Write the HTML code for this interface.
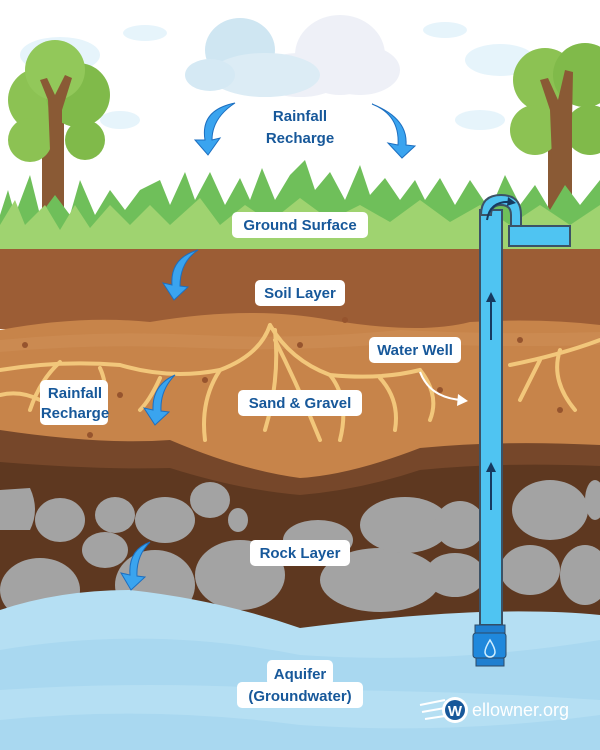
<!DOCTYPE html>
<html><head><style>
body{margin:0;width:600px;height:750px;overflow:hidden;background:#fff}
svg{display:block}
text{font-family:"Liberation Sans",sans-serif;font-weight:bold;fill:#17589a;font-size:15px;text-anchor:middle}
</style></head><body>
<svg width="600" height="750" viewBox="0 0 600 750">
<rect width="600" height="750" fill="#fff"/>
<g fill="#e6f4fb">
<ellipse cx="60" cy="55" rx="40" ry="18"/><ellipse cx="145" cy="33" rx="22" ry="8"/><ellipse cx="445" cy="30" rx="22" ry="8"/><ellipse cx="500" cy="60" rx="35" ry="16"/><ellipse cx="480" cy="120" rx="25" ry="10"/><ellipse cx="120" cy="120" rx="20" ry="9"/>
</g>
<g>
<ellipse cx="340" cy="55" rx="45" ry="40" fill="#eef0f7"/>
<ellipse cx="360" cy="70" rx="40" ry="25" fill="#eef0f7"/>
<ellipse cx="300" cy="75" rx="45" ry="22" fill="#eef0f7"/>
<ellipse cx="240" cy="50" rx="35" ry="32" fill="#cfe6f2"/>
<ellipse cx="265" cy="75" rx="55" ry="22" fill="#dcecf5"/>
<ellipse cx="210" cy="75" rx="25" ry="16" fill="#d5e9f4"/>
</g>
<g>
<rect x="42" y="110" width="22" height="135" fill="#8a5a35"/>
<circle cx="40" cy="100" r="32" fill="#8cc253"/><circle cx="78" cy="95" r="32" fill="#80ba4a"/><circle cx="55" cy="70" r="30" fill="#92c85a"/><circle cx="85" cy="140" r="20" fill="#80ba4a"/><circle cx="30" cy="140" r="22" fill="#8cc253"/>
<path d="M48 100 L40 80 L47 78 L55 95 L65 75 L72 78 L62 110 L62 150 L50 150Z" fill="#8a5a35"/>
<rect x="548" y="100" width="24" height="150" fill="#8a5a35"/>
<circle cx="545" cy="80" r="32" fill="#8cc253"/><circle cx="585" cy="75" r="32" fill="#80ba4a"/><circle cx="535" cy="130" r="25" fill="#8cc253"/><circle cx="590" cy="130" r="25" fill="#80ba4a"/>
<path d="M550 110 L540 80 L548 78 L558 100 L565 70 L573 72 L572 120 L572 160 L552 160Z" fill="#8a5a35"/>
</g>
<path d="M0 250 L0 215 L8 190 L15 215 L30 175 L40 215 L55 195 L70 215 L80 180 L95 215 L110 190 L125 210 L140 190 L160 180 L170 205 L185 172 L195 200 L210 172 L225 205 L240 178 L250 200 L262 168 L275 200 L290 175 L305 160 L315 190 L330 172 L345 200 L360 165 L370 195 L385 178 L400 200 L415 180 L425 200 L440 178 L455 205 L470 180 L490 210 L505 175 L520 205 L535 185 L550 210 L565 185 L580 205 L600 180 L600 250Z" fill="#6fbf5a"/>
<path d="M0 250 L0 225 L15 200 L25 225 L45 205 L60 230 L75 205 L90 228 L110 205 L130 225 L150 205 L170 225 L200 198 L220 225 L245 205 L270 222 L300 198 L330 220 L360 205 L390 222 L420 200 L450 222 L480 205 L510 225 L540 205 L570 225 L600 205 L600 250Z" fill="#9fd370"/>
<rect x="0" y="249" width="600" height="80" fill="#9c5d35"/>
<path d="M0 330 Q80 315 150 322 Q250 305 330 320 Q420 335 470 322 Q540 318 600 325 L600 520 L0 520Z" fill="#c7844a"/>
<path d="M0 340 Q100 330 200 335 Q300 340 400 330 Q500 335 600 332 L600 345 Q500 348 400 343 Q300 352 200 348 Q100 343 0 352Z" fill="#d09058" opacity=".5"/>
<g fill="#96542e"><circle cx="25" cy="345" r="3"/><circle cx="120" cy="395" r="3"/><circle cx="205" cy="380" r="3"/><circle cx="345" cy="320" r="3"/><circle cx="520" cy="340" r="3"/><circle cx="560" cy="410" r="3"/><circle cx="90" cy="435" r="3"/><circle cx="440" cy="390" r="3"/><circle cx="300" cy="345" r="3"/></g>
<g stroke="#f2c77b" stroke-width="4" fill="none" stroke-linecap="round">
<path d="M270 325 Q260 355 220 370 Q170 380 120 365 Q60 360 0 370"/>
<path d="M270 325 Q290 360 330 375 Q380 380 420 370"/>
<path d="M275 330 Q280 380 265 430"/><path d="M275 340 Q300 390 320 440"/>
<path d="M220 370 Q200 400 205 440"/><path d="M160 378 Q150 400 140 410"/>
<path d="M60 362 Q40 380 30 410"/><path d="M100 368 Q110 390 100 410"/>
<path d="M330 375 Q350 400 340 440"/><path d="M380 378 Q400 400 395 430"/>
<path d="M420 370 Q440 395 430 420"/><path d="M600 340 Q560 355 510 365"/><path d="M560 350 Q550 380 575 410"/><path d="M540 360 Q530 380 520 400"/>
<path d="M0 395 Q20 390 40 400"/>
</g>
<path d="M0 430 Q100 445 170 440 Q240 470 300 478 Q350 475 420 448 Q500 440 600 445 L600 620 L0 620Z" fill="#76472a"/>
<path d="M0 462 Q100 470 170 468 Q240 490 300 495 Q360 490 420 470 Q500 462 600 466 L600 630 L0 630Z" fill="#5e3820"/>
<g fill="#a3a3a3">
<path d="M0 490 L30 488 Q40 510 30 530 L0 530Z"/>
<ellipse cx="60" cy="520" rx="25" ry="22"/>
<ellipse cx="115" cy="515" rx="20" ry="18"/>
<ellipse cx="165" cy="520" rx="30" ry="23"/>
<ellipse cx="210" cy="500" rx="20" ry="18"/>
<ellipse cx="238" cy="520" rx="10" ry="12"/>
<ellipse cx="105" cy="550" rx="23" ry="18"/>
<ellipse cx="40" cy="590" rx="40" ry="32"/>
<ellipse cx="155" cy="585" rx="40" ry="35"/>
<ellipse cx="240" cy="575" rx="45" ry="35"/>
<ellipse cx="318" cy="540" rx="35" ry="20"/>
<ellipse cx="380" cy="580" rx="60" ry="32"/>
<ellipse cx="405" cy="525" rx="45" ry="28"/>
<ellipse cx="460" cy="525" rx="25" ry="24"/>
<ellipse cx="455" cy="575" rx="30" ry="22"/>
<ellipse cx="550" cy="510" rx="38" ry="30"/>
<ellipse cx="530" cy="570" rx="30" ry="25"/>
<ellipse cx="585" cy="575" rx="25" ry="30"/>
<ellipse cx="595" cy="500" rx="10" ry="20"/>
</g>
<path d="M0 610 Q60 590 130 590 Q220 600 300 628 Q400 615 480 612 Q550 610 600 615 L600 750 L0 750Z" fill="#b5dff3"/>
<path d="M0 650 Q150 625 300 655 Q450 665 600 640 L600 700 Q450 690 300 690 Q150 680 0 690Z" fill="#a9d8f0"/>
<path d="M0 720 Q150 705 300 725 Q450 735 600 715 L600 750 L0 750Z" fill="#a9d8f0"/>
<rect x="480" y="210" width="22" height="415" fill="#4fc4f2" stroke="#3c5266" stroke-width="2"/>
<path d="M481 215 Q481 195 501 195 Q521 195 521 215 L521 232 L511 232 L511 215 Q511 205 501 205 Q491 205 491 215Z" fill="#4fc4f2" stroke="#3c5266" stroke-width="2"/>
<rect x="509" y="226" width="61" height="20" fill="#4fc4f2" stroke="#3c5266" stroke-width="2"/>
<path d="M487 220 Q490 200 512 202" stroke="#163a60" stroke-width="2" fill="none"/>
<path d="M508 197 L516 203 L507 206Z" fill="#163a60"/>
<g stroke="#163a60" stroke-width="2"><line x1="491" y1="340" x2="491" y2="300"/><line x1="491" y1="510" x2="491" y2="470"/></g>
<g fill="#163a60"><path d="M486 302 L491 292 L496 302Z"/><path d="M486 472 L491 462 L496 472Z"/></g>
<rect x="475" y="625" width="30" height="8" fill="#1f7fd0" stroke="#2d4a66"/>
<rect x="473" y="633" width="33" height="25" rx="3" fill="#1f88dc" stroke="#2d4a66"/>
<rect x="476" y="658" width="28" height="8" fill="#1f7fd0" stroke="#2d4a66"/>
<path d="M490 640 Q485 648 485 652 A5 5 0 0 0 495 652 Q495 648 490 640Z" fill="none" stroke="#cfeeff" stroke-width="1.5"/>
<g fill="#3aa4ef" stroke="#1d6fc0" stroke-width="1">
<path d="M235 103 Q200 110 205 140 L195 140 L208 155 L220 138 L212 140 Q212 118 235 103Z"/>
<path d="M372 104 Q400 115 398 145 L388 143 L402 158 L415 146 L406 145 Q408 118 372 104Z"/>
<path d="M198 250 Q170 258 172 285 L163 283 L174 300 L188 287 L180 286 Q180 262 198 250Z"/>
<path d="M175 375 Q152 385 153 410 L144 408 L155 425 L169 412 L161 411 Q160 390 175 375Z"/>
<path d="M150 542 Q128 550 130 575 L121 573 L131 590 L145 577 L137 576 Q136 556 150 542Z"/>
</g>
<path d="M420 372 Q430 398 462 400" stroke="#fff" stroke-width="2" fill="none"/>
<path d="M458 394 L468 401 L457 406Z" fill="#fff"/>
<g fill="#fff">
<rect x="232" y="212" width="136" height="26" rx="5"/>
<rect x="255" y="280" width="90" height="26" rx="5"/>
<rect x="369" y="337" width="92" height="26" rx="5"/>
<rect x="40" y="380" width="68" height="45" rx="5"/>
<rect x="238" y="390" width="124" height="26" rx="5"/>
<rect x="250" y="540" width="100" height="26" rx="5"/>
<rect x="267" y="660" width="66" height="26" rx="5"/>
<rect x="237" y="682" width="126" height="26" rx="5"/>
</g>
<text x="300" y="121">Rainfall</text><text x="300" y="143">Recharge</text>
<text x="300" y="230">Ground Surface</text>
<text x="300" y="298">Soil Layer</text>
<text x="415" y="355">Water Well</text>
<text x="75" y="398">Rainfall</text><text x="75" y="418">Recharge</text>
<text x="300" y="408">Sand &amp; Gravel</text>
<text x="300" y="558">Rock Layer</text>
<text x="300" y="679">Aquifer</text><text x="300" y="701">(Groundwater)</text>
<g>
<path d="M420 705 L445 700 M422 712 L445 708 M425 719 L445 716" stroke="#fff" stroke-width="2"/>
<circle cx="455" cy="710" r="13" fill="#fff"/><circle cx="455" cy="710" r="10" fill="#17589a"/>
<text x="455" y="716" style="fill:#fff;font-size:15px">W</text>
<text x="472" y="716" style="fill:#fff;font-size:18px;font-weight:normal;text-anchor:start">ellowner.org</text>
</g>
</svg>
</body></html>
